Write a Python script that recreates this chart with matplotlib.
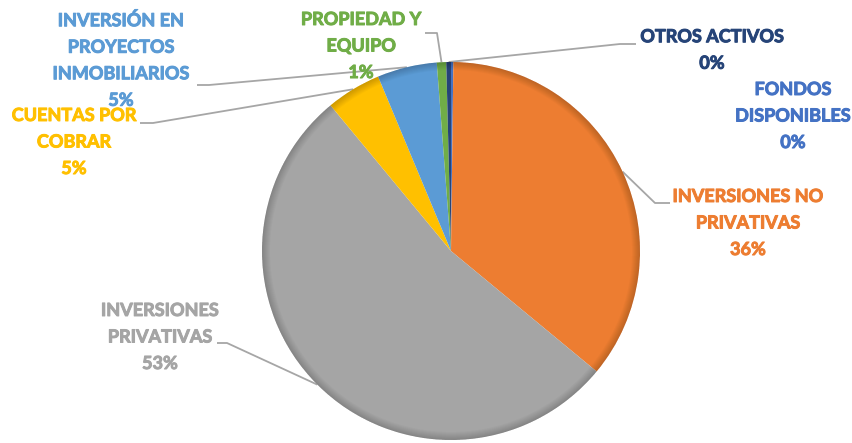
import numpy as np
import matplotlib
matplotlib.use('Agg')
import matplotlib.pyplot as plt
import matplotlib.patheffects as pe
from matplotlib.patches import Wedge

# Datos del gráfico (orden horario desde las 12)
categorias = ['FONDOS\nDISPONIBLES', 'INVERSIONES NO\nPRIVATIVAS', 'INVERSIONES\nPRIVATIVAS',
              'CUENTAS POR\nCOBRAR', 'INVERSIÓN EN\nPROYECTOS\nINMOBILIARIOS',
              'PROPIEDAD Y\nEQUIPO', 'OTROS ACTIVOS']
valores = [0.2, 35.8, 53.0, 4.7, 5.1, 0.8, 0.4]
etiquetas_pct = ['0%', '36%', '53%', '5%', '5%', '1%', '0%']
colores = ['#4472C4', '#ED7D31', '#A5A5A5', '#FFC000', '#5B9BD5', '#70AD47', '#264478']

W, H = 853, 443
fig = plt.figure(figsize=(W / 100, H / 100), dpi=100)
ax = fig.add_axes([0, 0, 1, 1])

cx, cy, r = 451, H - 251, 189
wedges, _ = ax.pie(valores, colors=colores, startangle=90, counterclock=False,
                   center=(cx, cy), radius=r, frame=True,
                   wedgeprops=dict(linewidth=0))
ax.set_xlim(0, W)
ax.set_ylim(0, H)
ax.set_aspect('equal')
ax.axis('off')

# sombreado suave en el borde (efecto bisel)
for k in range(8):
    ax.add_patch(Wedge((cx, cy), r, 0, 360, width=8 - k, facecolor='black',
                       alpha=0.025, lw=0, zorder=2))

# posición de las etiquetas (pixeles, y desde arriba) y quiebre de la línea guía
pos_texto = [(793, 116), (748, 223), (160, 337), (74, 142), (121, 60), (361, 46), (712, 50)]
guias = [None,
         [(670, 203), (655, 203)],
         [(217, 343), (227, 343)],
         [(140, 123), (153, 123)],
         [(197, 85), (209, 85)],
         [(425, 33), (437, 33)],
         [(636, 44), (620, 44)]]

color_guia = '#A6A6A6'
for i, w in enumerate(wedges):
    ang = np.deg2rad((w.theta1 + w.theta2) / 2)
    px, py = cx + r * np.cos(ang), cy + r * np.sin(ang)
    if guias[i] is not None:
        xs = [p[0] for p in guias[i]] + [px]
        ys = [H - p[1] for p in guias[i]] + [py]
        ax.plot(xs, ys, color=color_guia, lw=1.3, zorder=0.5, solid_capstyle='butt')
    color_txt = colores[i]
    ax.text(pos_texto[i][0], H - pos_texto[i][1], categorias[i] + '\n' + etiquetas_pct[i],
            ha='center', va='center', color=color_txt, fontsize=13, fontweight='bold',
            family='Lato', linespacing=1.68,
            path_effects=[pe.withStroke(linewidth=0.7, foreground=color_txt)])

fig.savefig('out.png', dpi=100)
plt.close(fig)
